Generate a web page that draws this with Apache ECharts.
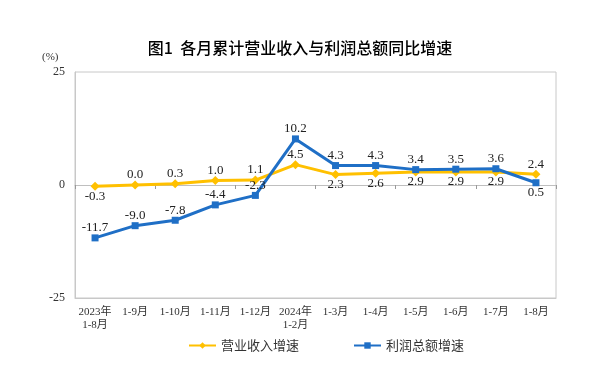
<!DOCTYPE html>
<html><head><meta charset="utf-8">
<script src="https://cdn.jsdelivr.net/npm/echarts@6/dist/echarts.min.js"></script>
<style>html,body{margin:0;padding:0;background:#fff}#c{width:600px;height:373px}</style>
</head><body><div id="c"></div>
<script>
const categories = ['2023年\n1-8月','1-9月','1-10月','1-11月','1-12月','2024年\n1-2月','1-3月','1-4月','1-5月','1-6月','1-7月','1-8月'];
const revenueGrowth = [-0.3, 0.0, 0.3, 1.0, 1.1, 4.5, 2.3, 2.6, 2.9, 2.9, 2.9, 2.4];
const profitGrowth = [-11.7, -9.0, -7.8, -4.4, -2.3, 10.2, 4.3, 4.3, 3.4, 3.5, 3.6, 0.5];
const revenueLabelSide = ['bottom','top','top','top','top','top','bottom','bottom','bottom','bottom','bottom','top'];
const profitLabelSide = ['top','top','top','top','top','top','top','top','top','top','top','bottom'];
const yTicks = [-25, 0, 25];

const serif = '"Liberation Serif","Noto Sans CJK SC",serif';
const YEL = '#FFC000', BLU = '#1F6FC6';
function withLabels(vals, sides){
  return vals.map((v,i)=>({value:v,label:{position:sides[i]}}));
}
const chart = echarts.init(document.getElementById('c'));
chart.setOption({
  animation:false,
  title:{text:'图1  各月累计营业收入与利润总额同比增速',left:'center',top:35,
    textStyle:{fontFamily:'"Noto Sans CJK SC",sans-serif',fontSize:16,fontWeight:500,color:'#000'}},
  graphic:[{type:'text',left:42,top:52,style:{text:'(%)',font:'11px '+serif,fill:'#333'}}],
  grid:{left:75,right:44,top:72,bottom:75,show:true,borderColor:'#c8c8c8',borderWidth:1},
  legend:{bottom:16,left:183,itemWidth:27,itemHeight:8,itemGap:54,
    textStyle:{fontFamily:'"Noto Sans CJK SC",sans-serif',fontSize:13,color:'#333'},
    data:['营业收入增速','利润总额增速']},
  xAxis:[{type:'category',data:categories,boundaryGap:true,position:'bottom',
    axisLine:{onZero:false,lineStyle:{color:'#c8c8c8'}},axisTick:{show:false},
    axisLabel:{fontFamily:serif,fontSize:11,color:'#333',lineHeight:13,margin:8,interval:0}},
   {type:'category',data:categories,boundaryGap:true,position:'top',
    axisLine:{onZero:true,lineStyle:{color:'#bfbfbf'}},
    axisTick:{show:true,inside:true,length:4,lineStyle:{color:'#999'}},
    axisLabel:{show:false}}],
  yAxis:{type:'value',min:yTicks[0],max:yTicks[2],interval:25,
    axisLine:{show:true,lineStyle:{color:'#c8c8c8'}},axisTick:{show:false},
    splitLine:{show:false},
    axisLabel:{fontFamily:serif,fontSize:12,color:'#333',margin:10}},
  series:[
   {name:'营业收入增速',type:'line',data:withLabels(revenueGrowth,revenueLabelSide),
    color:YEL,lineStyle:{width:3,color:YEL},symbol:'diamond',symbolSize:9,
    itemStyle:{color:YEL},z:3,
    label:{show:true,formatter:p=>p.value.toFixed(1),fontFamily:serif,fontSize:13,color:'#222',distance:-1}},
   {name:'利润总额增速',type:'line',data:withLabels(profitGrowth,profitLabelSide),
    color:BLU,lineStyle:{width:3,color:BLU},symbol:'rect',symbolSize:7,
    itemStyle:{color:BLU},z:4,
    label:{show:true,formatter:p=>p.value.toFixed(1),fontFamily:serif,fontSize:13,color:'#222',distance:0}}
  ]
});
</script></body></html>
